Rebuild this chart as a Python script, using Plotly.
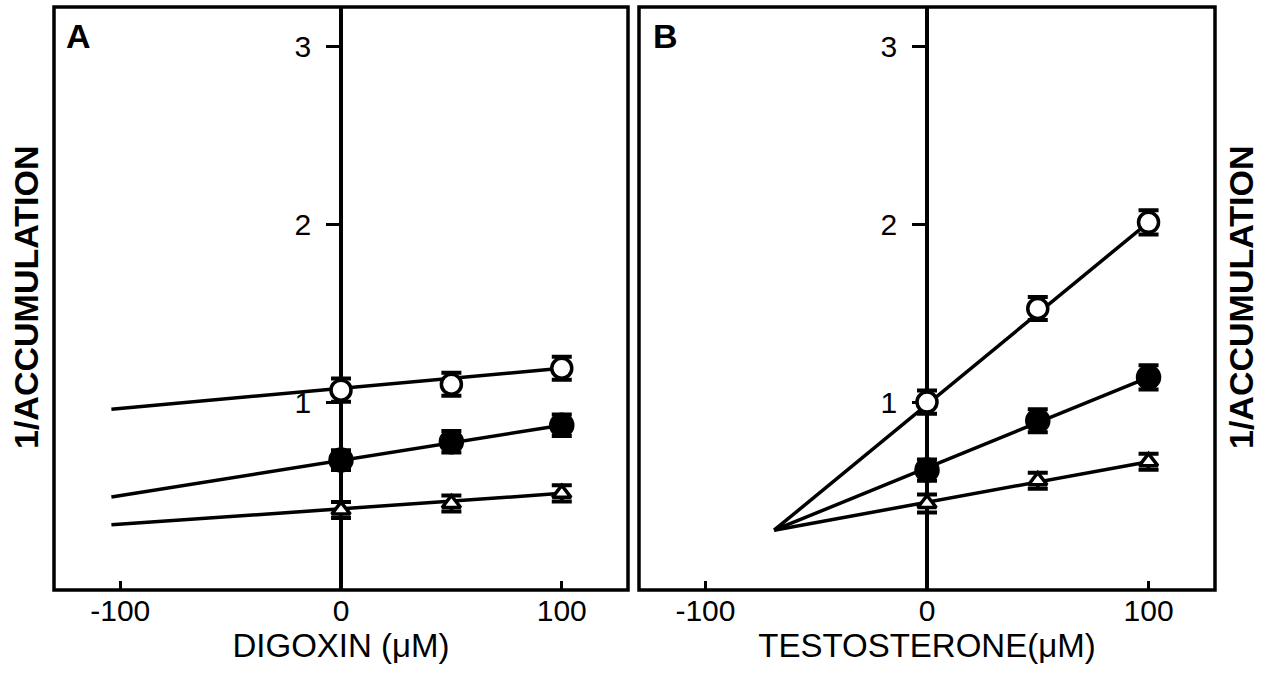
import plotly.graph_objects as go

# ---------------- data ----------------
conc = [0, 50, 100]

# Panel A (digoxin)
a_open = [1.067, 1.100, 1.190]
a_open_err = [0.065, 0.065, 0.065]
a_filled = [0.674, 0.777, 0.870]
a_filled_err = [0.055, 0.06, 0.06]
a_tri = [0.393, 0.430, 0.487]
a_tri_err = [0.045, 0.045, 0.045]
a_fit_x = [-104, 100]
a_fit_open = [0.960, 1.190]
a_fit_filled = [0.466, 0.870]
a_fit_tri = [0.310, 0.487]

# Panel B (testosterone)
b_open = [1.000, 1.526, 2.010]
b_open_err = [0.065, 0.065, 0.068]
b_filled = [0.618, 0.895, 1.139]
b_filled_err = [0.06, 0.065, 0.068]
b_tri = [0.430, 0.558, 0.665]
b_tri_err = [0.05, 0.045, 0.045]
b_fit_x = [-69, 100]
b_fit_open = [0.280, 2.010]
b_fit_filled = [0.280, 1.139]
b_fit_tri = [0.280, 0.665]

x_ticks = [-100, 0, 100]
x_tick_text = ["-100", "0", "100"]
y_ticks = [1, 2, 3]
x_range = [-130, 130]
y_range = [-0.056, 3.22]

FONT = "Liberation Sans, Arial, Helvetica, sans-serif"
BLACK = "#000000"
LW = 3.5

fig = go.Figure()


def add_panel(xa, ya, fits, series):
    fx, fys = fits
    for fy in fys:
        fig.add_trace(go.Scatter(x=fx, y=fy, mode="lines", xaxis=xa, yaxis=ya,
                                 line=dict(color=BLACK, width=LW), showlegend=False,
                                 hoverinfo="skip"))
    for ys, errs, sym, fill, size in series:
        fig.add_trace(go.Scatter(
            x=conc, y=ys, mode="markers", xaxis=xa, yaxis=ya, showlegend=False,
            marker=dict(symbol=sym, size=size, color=fill,
                        line=dict(color=BLACK, width=LW)),
            error_y=dict(type="data", array=errs, visible=True, color=BLACK,
                         thickness=4, width=10)))


add_panel("x", "y", (a_fit_x, [a_fit_open, a_fit_filled, a_fit_tri]),
          [(a_open, a_open_err, "circle", "white", 20),
           (a_filled, a_filled_err, "circle", BLACK, 22),
           (a_tri, a_tri_err, "triangle-up", "white", 16)])
add_panel("x2", "y2", (b_fit_x, [b_fit_open, b_fit_filled, b_fit_tri]),
          [(b_open, b_open_err, "circle", "white", 20),
           (b_filled, b_filled_err, "circle", BLACK, 22),
           (b_tri, b_tri_err, "triangle-up", "white", 16)])

dom_a = [54 / 1268, 628 / 1268]
dom_b = [639 / 1268, 1215 / 1268]
dom_y = [1 - 590 / 675, 1 - 7 / 675]

xaxis_common = dict(range=x_range, tickvals=x_ticks, ticktext=x_tick_text,
                    ticks="inside", ticklen=9,
                    tickwidth=3, tickcolor=BLACK, showgrid=False, zeroline=False,
                    showline=False, tickfont=dict(family=FONT, size=30, color=BLACK),
                    title=dict(font=dict(family=FONT, size=33, color=BLACK), standoff=6),
                    fixedrange=True)
yaxis_common = dict(range=y_range, tickvals=y_ticks, ticks="outside", ticklen=13,
                    tickwidth=3, tickcolor=BLACK, showgrid=False, zeroline=False,
                    showline=True, linewidth=LW, linecolor=BLACK, anchor="free",
                    layer="below traces", ticklabelstandoff=9,
                    tickfont=dict(family=FONT, size=30, color=BLACK), fixedrange=True)

fig.update_layout(
    width=1268, height=675,
    margin=dict(l=0, r=0, t=0, b=0),
    paper_bgcolor="white", plot_bgcolor="white",
    xaxis=dict(xaxis_common, domain=dom_a, anchor="y",
               title=dict(xaxis_common["title"], text="DIGOXIN (μM)")),
    xaxis2=dict(xaxis_common, domain=dom_b, anchor="y2",
                title=dict(xaxis_common["title"], text="TESTOSTERONE(μM)")),
    yaxis=dict(yaxis_common, domain=dom_y,
               position=(dom_a[0] + dom_a[1]) / 2),
    yaxis2=dict(yaxis_common, domain=dom_y,
                position=(dom_b[0] + dom_b[1]) / 2),
    showlegend=False,
)

for xr, yr in (("x domain", "y domain"), ("x2 domain", "y2 domain")):
    fig.add_shape(type="rect", xref=xr, yref=yr, x0=0, x1=1, y0=0, y1=1,
                  line=dict(color=BLACK, width=LW), layer="below")

ann_font = dict(family=FONT, size=34, color=BLACK)
fig.add_annotation(text="<b>1/ACCUMULATION</b>", xref="paper", yref="paper",
                   x=26 / 1268, y=1 - 298 / 675, textangle=-90, showarrow=False,
                   font=ann_font, xanchor="center", yanchor="middle")
fig.add_annotation(text="<b>1/ACCUMULATION</b>", xref="paper", yref="paper",
                   x=1241 / 1268, y=1 - 298 / 675, textangle=-90, showarrow=False,
                   font=ann_font, xanchor="center", yanchor="middle")
lab_font = dict(family="Liberation Sans, Arial, sans-serif", size=34, color=BLACK)
fig.add_annotation(text="<b>A</b>", xref="paper", yref="paper",
                   x=78 / 1268, y=1 - 36 / 675, showarrow=False, font=lab_font,
                   xanchor="center", yanchor="middle")
fig.add_annotation(text="<b>B</b>", xref="paper", yref="paper",
                   x=665 / 1268, y=1 - 36 / 675, showarrow=False, font=lab_font,
                   xanchor="center", yanchor="middle")

fig.write_html("out.html")
